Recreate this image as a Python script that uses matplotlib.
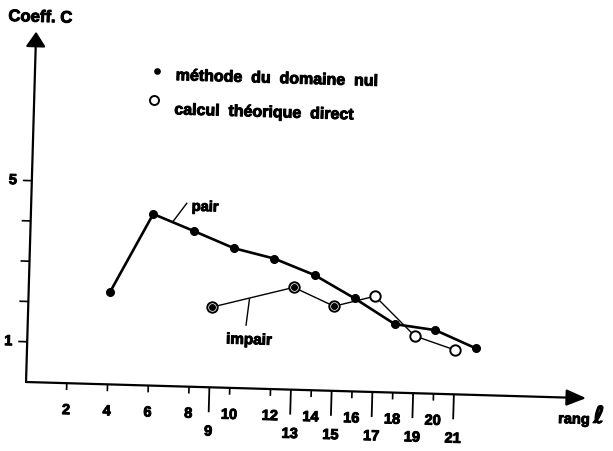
import numpy as np
import matplotlib
matplotlib.use('Agg')
import matplotlib.pyplot as plt
import matplotlib.patheffects as pe
from matplotlib.transforms import Affine2D

plt.rcParams['font.family'] = ['Liberation Sans', 'DejaVu Sans']
plt.rcParams['font.weight'] = 'bold'

# rang l pair : méthode du domaine nul
pair_l = [4, 6, 8, 10, 12, 14, 16, 18, 20, 22]
pair_c = [2.30, 4.26, 3.87, 3.47, 3.24, 2.86, 2.31, 1.70, 1.58, 1.16]

# rang l impair : calcul théorique direct
impair_l = [9, 13, 15, 17, 19, 21]
impair_c = [1.99, 2.54, 2.10, 2.38, 1.42, 1.10]

# impair points also given by the domaine nul method
impair_nul_l = [9, 13, 15]
impair_nul_c = [1.99, 2.54, 2.10]

x_even = [2, 4, 6, 8, 10, 12, 14, 16, 18, 20]
x_odd = [9, 13, 15, 17, 19, 21]
y_ticks = [1, 2, 3, 4, 5]
y_labels = ['1', '5']
y_label_pos = [1, 5]

fig = plt.figure(figsize=(6.13, 4.51), dpi=100)
ax = fig.add_axes([0, 0, 1, 1])
ax.set_autoscale_on(False)
ax.set_xlim(-1.276, 28.80)
ax.set_ylim(-1.713, 9.484)
ax.axis('off')

# the scanned page is turned a little clockwise
ang = -1.65
tr = ax.transData + Affine2D().rotate_deg_around(26, 68, ang)
heavy = [pe.withStroke(linewidth=0.7, foreground='k')]

def txt(x, y, s, **kw):
    ax.text(x, y, s, transform=tr, rotation=ang, rotation_mode='anchor',
            path_effects=heavy, **kw)

# axes with arrows
ax.annotate('', xy=(0, 8.70), xytext=(0, 0), xycoords=tr, textcoords=tr,
            arrowprops=dict(arrowstyle='-|>,head_length=0.45,head_width=0.3',
                            mutation_scale=20, lw=1.6, color='k', shrinkA=0, shrinkB=0))
ax.annotate('', xy=(27.49, 0), xytext=(0, 0), xycoords=tr, textcoords=tr,
            arrowprops=dict(arrowstyle='-|>,head_length=0.6,head_width=0.25',
                            mutation_scale=20, lw=1.6, color='k', shrinkA=0, shrinkB=0))

# ticks
ax.vlines(x_even, -0.17, 0, colors='k', lw=1.2, transform=tr)
ax.vlines(x_odd, -0.62, 0, colors='k', lw=1.3, transform=tr)
ax.hlines(y_ticks, -0.44, 0, colors='k', lw=1.2, transform=tr)

for v in x_even:
    txt(v, -0.67, str(v), ha='center', va='center', fontsize=10.5)
for v in x_odd:
    txt(v, -1.10, str(v), ha='center', va='center', fontsize=10.5)
for v, s in zip(y_label_pos, y_labels):
    txt(-0.93, v, s, ha='center', va='center', fontsize=10.5)

txt(-1.38, 9.06, 'Coeff. C', ha='left', va='center', fontsize=12)
txt(26.15, -0.637, 'rang', ha='left', va='baseline', fontsize=10.5)
txt(27.87, -0.612, r'$\ell$', ha='left', va='baseline', fontsize=17)

# curves
ax.plot(impair_l, impair_c, '-', color='k', lw=1.0, transform=tr, zorder=2)
ax.plot(impair_l, impair_c, 'o', ms=7.5, mfc='white', mec='k', mew=1.4,
        transform=tr, zorder=3)
ax.plot(impair_nul_l, impair_nul_c, 'o', ms=4, color='k', transform=tr, zorder=4)
ax.plot(pair_l, pair_c, '-o', color='k', lw=1.9, ms=5.5, transform=tr, zorder=5)

# curve names with leader lines
ax.plot([6.97, 7.63], [4.08, 4.55], color='k', lw=1.0, transform=tr)
txt(7.88, 4.37, 'pair', ha='left', va='baseline', fontsize=10.5)
ax.plot([10.84, 10.71], [2.22, 1.57], color='k', lw=1.0, transform=tr)
txt(9.75, 1.10, 'impair', ha='left', va='baseline', fontsize=11)

# legend
ax.plot([5.97], [7.82], 'o', ms=3.8, color='k', transform=tr)
ax.plot([5.88], [7.09], 'o', ms=6.5, mfc='white', mec='k', mew=1.4, transform=tr)
txt(6.91, 7.60, 'méthode  du  domaine  nul', ha='left', va='baseline', fontsize=11.5)
txt(6.89, 6.75, 'calcul  théorique  direct', ha='left', va='baseline', fontsize=11.5)

fig.savefig('out.png', dpi=100)
